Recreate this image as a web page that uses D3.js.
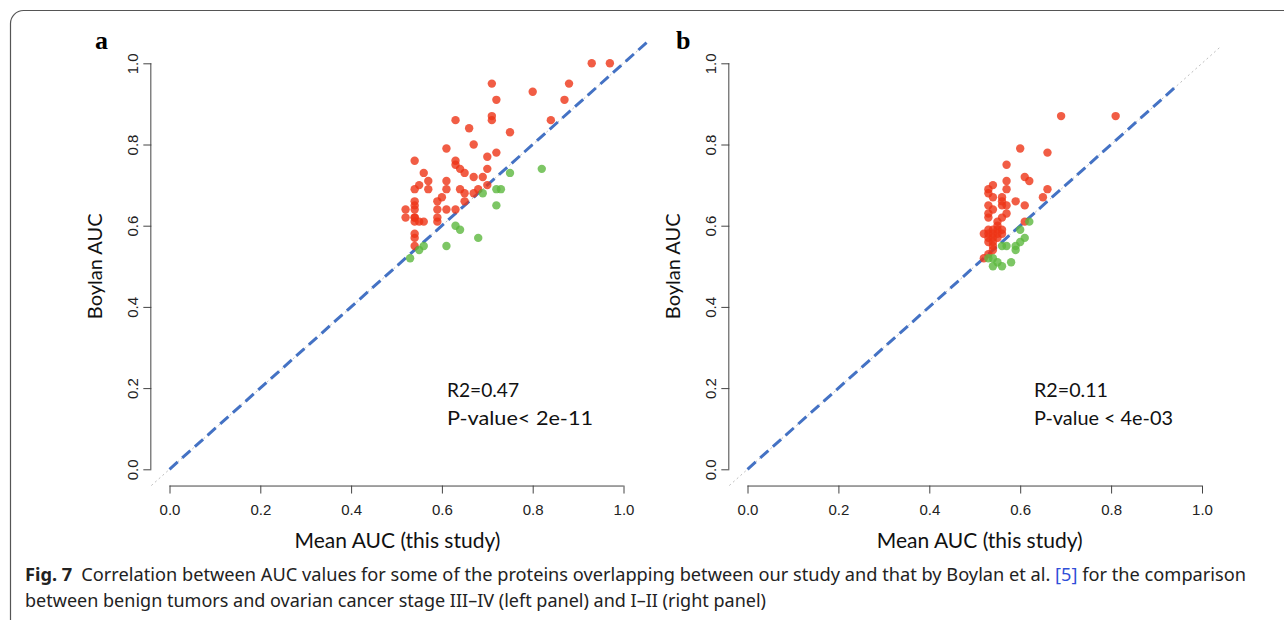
<!DOCTYPE html>
<html>
<head>
<meta charset="utf-8">
<script src="https://cdn.jsdelivr.net/npm/d3@7"></script>
<style>
  html, body { margin: 0; padding: 0; background: #fff; }
  svg { display: block; }
</style>
</head>
<body>
<svg id="fig" width="1284" height="620"></svg>
<script>
// Panel a: benign vs stage III–IV; [mean AUC (this study), Boylan AUC]
const panelARed = [
  [0.93,1.00],[0.97,1.00],[0.71,0.95],[0.88,0.95],[0.80,0.93],[0.72,0.91],[0.87,0.91],
  [0.71,0.87],[0.71,0.86],[0.63,0.86],[0.84,0.86],[0.66,0.84],[0.75,0.83],[0.67,0.80],
  [0.61,0.79],[0.54,0.76],[0.63,0.76],[0.63,0.75],[0.70,0.77],[0.72,0.78],[0.64,0.74],
  [0.65,0.73],[0.70,0.74],[0.56,0.73],[0.57,0.71],[0.55,0.70],[0.61,0.71],[0.67,0.72],
  [0.69,0.72],[0.54,0.69],[0.57,0.69],[0.61,0.69],[0.64,0.69],[0.68,0.69],[0.70,0.70],
  [0.60,0.67],[0.59,0.66],[0.65,0.68],[0.65,0.66],[0.67,0.68],[0.54,0.66],[0.54,0.65],
  [0.54,0.64],[0.52,0.64],[0.52,0.62],[0.54,0.62],[0.54,0.62],[0.55,0.61],[0.56,0.61],
  [0.59,0.64],[0.59,0.62],[0.59,0.61],[0.61,0.64],[0.63,0.64],[0.54,0.61],[0.54,0.58],
  [0.54,0.57],[0.54,0.55]
];
const panelAGreen = [
  [0.53,0.52],[0.55,0.54],[0.56,0.55],[0.61,0.55],[0.63,0.60],[0.64,0.59],[0.68,0.57],
  [0.69,0.68],[0.72,0.69],[0.73,0.69],[0.72,0.65],[0.75,0.73],[0.82,0.74]
];
// Panel b: benign vs stage I–II
const panelBRed = [
  [0.69,0.87],[0.81,0.87],[0.60,0.79],[0.66,0.78],[0.57,0.75],[0.61,0.72],[0.62,0.71],
  [0.57,0.71],[0.54,0.70],[0.53,0.69],[0.57,0.69],[0.66,0.69],[0.53,0.68],[0.54,0.67],
  [0.56,0.67],[0.65,0.67],[0.59,0.66],[0.56,0.66],[0.56,0.65],[0.57,0.65],[0.53,0.65],
  [0.61,0.65],[0.54,0.64],[0.53,0.63],[0.57,0.63],[0.56,0.62],[0.53,0.62],[0.55,0.61],
  [0.55,0.60],[0.61,0.61],[0.52,0.58],[0.53,0.59],[0.54,0.59],[0.55,0.59],[0.56,0.59],
  [0.53,0.58],[0.54,0.58],[0.55,0.58],[0.56,0.58],[0.53,0.57],[0.54,0.57],[0.55,0.57],
  [0.53,0.56],[0.54,0.56],[0.54,0.55],[0.52,0.52],[0.53,0.53],[0.54,0.54]
];
const panelBGreen = [
  [0.60,0.59],[0.62,0.61],[0.61,0.57],[0.60,0.56],[0.59,0.55],[0.59,0.54],[0.56,0.55],
  [0.57,0.55],[0.53,0.52],[0.54,0.52],[0.55,0.51],[0.54,0.50],[0.56,0.50],[0.58,0.51]
];

const tickValues = [0.0, 0.2, 0.4, 0.6, 0.8, 1.0];
const tickLabels = ["0.0", "0.2", "0.4", "0.6", "0.8", "1.0"];
const identityA = [0.0, 1.055];   // extent of the dashed y = x line, panel a
const identityB = [0.0, 0.945];   // extent of the dashed y = x line, panel b
const statsA = ["R2=0.47", "P-value< 2e-11"];
const statsB = ["R2=0.11", "P-value < 4e-03"];
const xTitle = "Mean AUC (this study)";
const yTitle = "Boylan AUC";

const svg = d3.select("#fig");

// outer frame of the figure box
svg.append("rect")
  .attr("x", 10.5).attr("y", 10.5)
  .attr("width", 1320).attr("height", 640)
  .attr("rx", 13).attr("ry", 13)
  .attr("fill", "none").attr("stroke", "#555").attr("stroke-width", 1.2);

const RED = "rgba(238,52,22,0.8)";
const GREEN = "rgba(92,184,62,0.8)";
const SANS = "Lato, 'Open Sans', sans-serif";

function drawPanel(cfg) {
  const x = d3.scaleLinear().domain([0, 1]).range([cfg.x0, cfg.x1]);
  const y = d3.scaleLinear().domain([0, 1]).range([cfg.y0, cfg.y1]);
  const g = svg.append("g");
  const pad = 0.04;

  // y axis (R style, offset to the plot region edge)
  const yAxis = d3.axisLeft(y).tickValues(tickValues)
    .tickFormat((d, i) => tickLabels[i]).tickSize(8).tickSizeOuter(0);
  const ya = g.append("g").attr("transform", `translate(${x(-pad)},0)`).call(yAxis);
  ya.select(".domain").attr("stroke", "#444").attr("d", `M-0.5,${y(0)}V${y(1)}`);
  ya.selectAll(".tick line").attr("stroke", "#444");
  ya.selectAll(".tick text")
    .attr("x", null)
    .attr("font-family", "Liberation Sans, Arial, sans-serif")
    .attr("font-size", 15).attr("fill", "#222")
    .attr("text-anchor", "middle")
    .attr("transform", "translate(-19,0) rotate(-90)")
    .attr("dy", "0.35em");

  // x axis
  const xAxis = d3.axisBottom(x).tickValues(tickValues)
    .tickFormat((d, i) => tickLabels[i]).tickSize(8).tickSizeOuter(0);
  const xa = g.append("g").attr("transform", `translate(0,${y(-pad)})`).call(xAxis);
  xa.select(".domain").attr("stroke", "#444").attr("d", `M${x(0)},0.5H${x(1)}`);
  xa.selectAll(".tick line").attr("stroke", "#444");
  xa.selectAll(".tick text")
    .attr("font-family", "Liberation Sans, Arial, sans-serif")
    .attr("font-size", 15).attr("fill", "#222")
    .attr("y", 19).attr("dy", "0.71em");

  // axis titles
  g.append("text")
    .attr("x", x(0.5) + cfg.titleShift).attr("y", cfg.y0 + 79)
    .attr("text-anchor", "middle")
    .attr("font-family", SANS).attr("font-size", 21)
    .attr("fill", "#111").text(xTitle);
  g.append("text")
    .attr("transform", `translate(${x(-pad) - 49},${y(0.5)}) rotate(-90)`)
    .attr("text-anchor", "middle")
    .attr("font-family", SANS).attr("font-size", 20)
    .attr("fill", "#111").text(yTitle);

  // reference diagonal across the whole plot region
  g.append("line")
    .attr("x1", x(-pad)).attr("y1", y(-pad))
    .attr("x2", x(1 + pad)).attr("y2", y(1 + pad))
    .attr("stroke", "#bdbdbd").attr("stroke-width", 1)
    .attr("stroke-dasharray", "2,3");

  // dashed identity line
  g.append("line")
    .attr("x1", x(cfg.identity[0])).attr("y1", y(cfg.identity[0]))
    .attr("x2", x(cfg.identity[1])).attr("y2", y(cfg.identity[1]))
    .attr("stroke", "#4472c4").attr("stroke-width", 3)
    .attr("stroke-dasharray", "11,6");

  // points
  g.append("g").selectAll("circle").data(cfg.red).join("circle")
    .attr("cx", d => x(d[0])).attr("cy", d => y(d[1]))
    .attr("r", 4.2).attr("fill", RED);
  g.append("g").selectAll("circle").data(cfg.green).join("circle")
    .attr("cx", d => x(d[0])).attr("cy", d => y(d[1]))
    .attr("r", 4.2).attr("fill", GREEN);

  // statistics
  cfg.stats.forEach((s, i) => {
    g.append("text")
      .attr("x", cfg.statsX).attr("y", 397 + i * 28)
      .attr("font-family", SANS).attr("font-size", 20)
      .attr("textLength", cfg.statsW[i]).attr("lengthAdjust", "spacingAndGlyphs")
      .attr("fill", "#111").text(s);
  });

  // panel letter
  g.append("text")
    .attr("x", cfg.letterX).attr("y", 49)
    .attr("font-family", "Liberation Serif, 'Times New Roman', serif")
    .attr("font-weight", "bold").attr("font-size", 26)
    .attr("fill", "#000").text(cfg.letter);
}

drawPanel({ x0: 169.5, x1: 623.5, y0: 469.3, y1: 63.3,
  red: panelARed, green: panelAGreen, identity: identityA, stats: statsA,
  statsX: 447, statsW: [72, 146], titleShift: 1,
  letter: "a", letterX: 95 });
drawPanel({ x0: 747.5, x1: 1202, y0: 469.3, y1: 63.3,
  red: panelBRed, green: panelBGreen, identity: identityB, stats: statsB,
  statsX: 1034, statsW: [74, 139], titleShift: 5,
  letter: "b", letterX: 676 });

// caption
const cap1 = svg.append("text")
  .attr("x", 25).attr("y", 581)
  .attr("font-family", "'Noto Sans', 'Open Sans', sans-serif").attr("font-size", 17.5)
  .attr("fill", "#222")
  .attr("textLength", 1221).attr("lengthAdjust", "spacingAndGlyphs");
cap1.append("tspan").attr("font-weight", "bold").text("Fig. 7");
cap1.append("tspan").text("\u2002Correlation between AUC values for some of the proteins overlapping between our study and that by Boylan et al. ");
cap1.append("tspan").attr("fill", "#2f4fd8").text("[5]");
cap1.append("tspan").text(" for the comparison");

svg.append("text")
  .attr("x", 25).attr("y", 607)
  .attr("font-family", "'Noto Sans', 'Open Sans', sans-serif").attr("font-size", 17.5)
  .attr("fill", "#222")
  .attr("textLength", 741).attr("lengthAdjust", "spacingAndGlyphs")
  .text("between benign tumors and ovarian cancer stage III\u2013IV (left panel) and I\u2013II (right panel)");
</script>
</body>
</html>
